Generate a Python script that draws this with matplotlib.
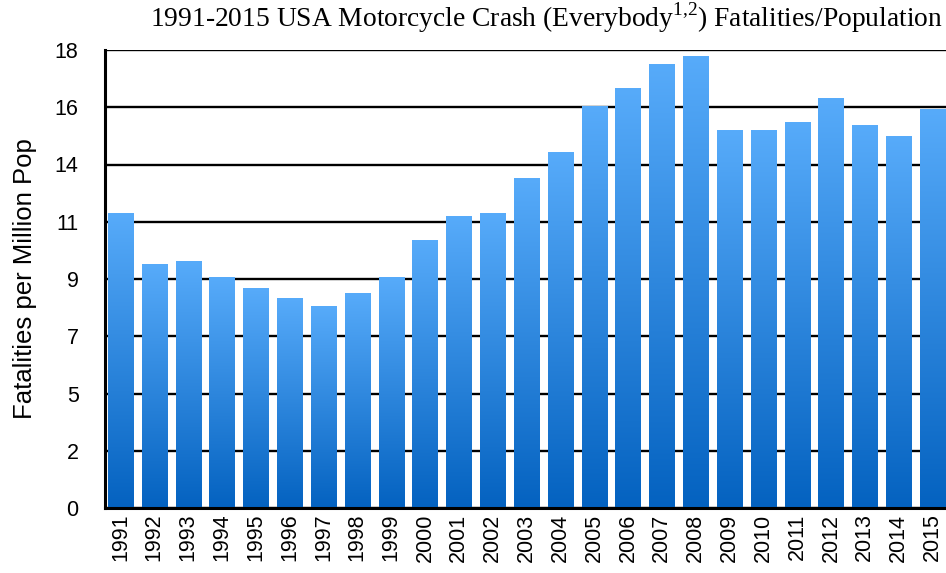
import numpy as np
import matplotlib
matplotlib.use("Agg")
import matplotlib.pyplot as plt
from matplotlib.colors import LinearSegmentedColormap

# motorcycle crash fatalities per million population, 1991-2015
years = [str(y) for y in range(1991, 2016)]
rates = [11.59, 9.57, 9.69, 9.06, 8.63, 8.24, 7.92, 8.43, 9.06, 10.51,
         11.46, 11.58, 12.95, 13.97, 15.78, 16.49, 17.43, 17.75, 14.84, 14.84,
         15.15, 16.10, 15.04, 14.60, 15.66]
grid_vals = [0, 2.25, 4.5, 6.75, 9, 11.25, 13.5, 15.75, 18]
grid_labels = ["0", "2", "5", "7", "9", "11", "14", "16", "18"]

plt.rcParams["font.family"] = ["Liberation Sans", "DejaVu Sans"]
plt.rcParams["mathtext.fontset"] = "custom"
plt.rcParams["mathtext.rm"] = "Liberation Serif"

fig = plt.figure(figsize=(9.46, 5.73), dpi=100)
ax = fig.add_axes([105 / 946, 65 / 573, 843 / 946, 458 / 573])

x = np.arange(len(years))
bars = ax.bar(x, rates, width=0.74, color="none", edgecolor="none", zorder=2)

# light-to-dark vertical gradient inside each bar
cmap = LinearSegmentedColormap.from_list("bluegrad", ["#0462c0", "#57abfa"])
grad = np.linspace(0, 1, 256).reshape(-1, 1)
for b in bars:
    x0, y0 = b.get_x(), b.get_y()
    ax.imshow(grad, extent=[x0, x0 + b.get_width(), y0, y0 + b.get_height()],
              origin="lower", aspect="auto", cmap=cmap, zorder=2,
              interpolation="bilinear")

ax.set_xlim(-0.458, len(years) - 1 + 0.458)
ax.set_ylim(0, 18)
ax.set_yticks(grid_vals)
ax.set_yticklabels(grid_labels)
ax.set_xticks(x)
ax.set_xticklabels(years, rotation=90)
ax.tick_params(axis="y", length=0, pad=19, labelsize=15.5)
ax.tick_params(axis="x", length=0, pad=4, labelsize=15.5)
ax.yaxis.grid(True, color="black", lw=1.7, zorder=0)
ax.set_axisbelow(True)

for side in ["top", "right"]:
    ax.spines[side].set_visible(False)
for side in ["left", "bottom"]:
    ax.spines[side].set_linewidth(2.2)
    ax.spines[side].set_zorder(3)

ax.set_ylabel("Fatalities per Million Pop", fontsize=18.5, labelpad=13)

fig.text(943 / 946, 1 - 27 / 573,
         r"1991-2015 USA Motorcycle Crash (Everybody$^{1{,}2}$) Fatalities/Population",
         family="Liberation Serif", fontsize=19.8, ha="right", va="baseline")

fig.savefig("out.png", dpi=100)
